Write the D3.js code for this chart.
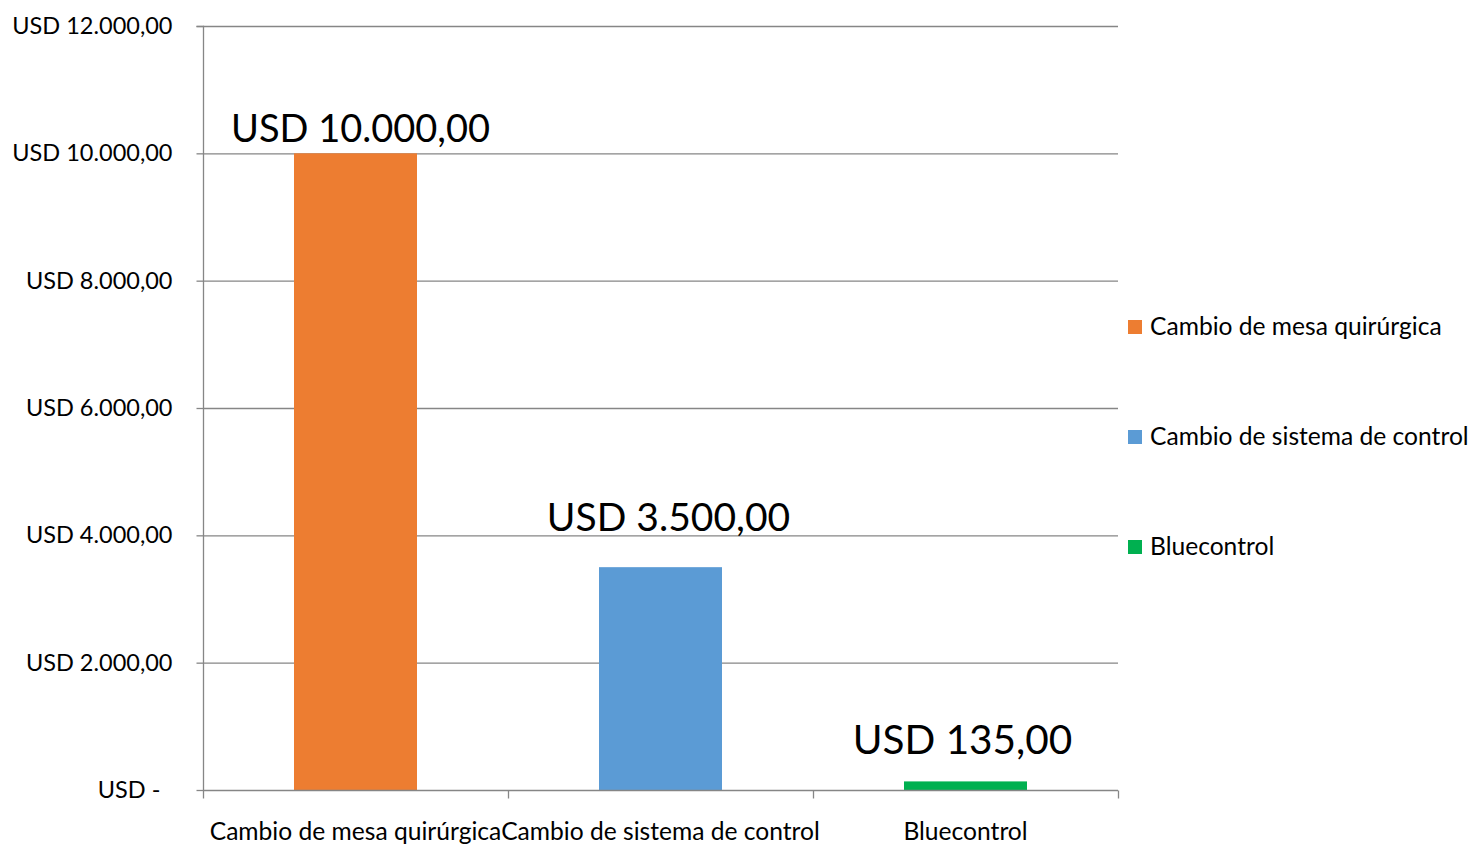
<!DOCTYPE html>
<html><head><meta charset="utf-8">
<script src="https://cdn.jsdelivr.net/npm/d3@7"></script>
<style>
html,body{margin:0;padding:0;background:#fff;}
svg{display:block;font-family:Lato,"Open Sans",sans-serif;}
text{white-space:pre;}
</style></head>
<body><svg id="c" width="1476" height="844"></svg>
<script>
const categories = ["Cambio de mesa quirúrgica","Cambio de sistema de control","Bluecontrol"];
const values = [10000, 3500, 135];
const valueLabels = ["USD 10.000,00","USD 3.500,00","USD 135,00"];
const yTicks = [0,2000,4000,6000,8000,10000,12000];
const yTickLabels = ["USD -  ","USD 2.000,00","USD 4.000,00","USD 6.000,00","USD 8.000,00","USD 10.000,00","USD 12.000,00"];
const colors = ["#ED7D31","#5B9BD5","#00B050"];

// layout (not data)
const labelShift = [{dx:5,dy:-11},{dx:8,dy:-36},{dx:-3,dy:-27}];
const labelSize = [38, 39, 40.5];

const svg = d3.select("#c");
const L=203, R=1118, T=26, B=790;
const x = d3.scaleBand().domain(categories).range([L,R]).paddingInner(0).paddingOuter(0);
const y = d3.scaleLinear().domain([0,12000]).range([B,T]);
const barW = 123;
const grid="#868686";

// gridlines
svg.append("g").selectAll("line").data(yTicks.filter(d=>d>0)).join("line")
  .attr("x1",L).attr("x2",R).attr("y1",d=>y(d)+0.5).attr("y2",d=>y(d)+0.5)
  .attr("stroke",grid).attr("stroke-width",1.3);

// y axis
const yAxis = d3.axisLeft(y).tickValues(yTicks).tickSize(7).tickPadding(24)
  .tickFormat((d,i)=>yTickLabels[i]);
const gy = svg.append("g").attr("transform",`translate(${L+0.5},0)`).call(yAxis);
gy.select(".domain").attr("stroke",grid).attr("stroke-width",1.3).attr("d",`M-7,${T+0.5}H0V${B+0.5}`);
gy.selectAll(".tick line").attr("stroke",grid).attr("stroke-width",1.3);
gy.selectAll(".tick text").attr("font-size",23.5).attr("fill","#000").attr("font-family","Lato,'Open Sans',sans-serif");

// bars
svg.append("g").selectAll("rect").data(values).join("rect")
  .attr("x",(d,i)=>x(categories[i])+x.bandwidth()/2-barW/2)
  .attr("width",barW)
  .attr("y",d=>y(d)).attr("height",d=>B-y(d))
  .attr("fill",(d,i)=>colors[i]);

// x axis
const xAxis = d3.axisBottom(x).tickSize(0).tickPadding(0);
const gx = svg.append("g").attr("transform",`translate(0,${B+0.5})`).call(xAxis);
gx.select(".domain").attr("stroke",grid).attr("stroke-width",1.5).attr("d",`M${L},0H${R}`);
gx.selectAll(".tick text").attr("font-size",24.6).attr("fill","#000").attr("dy",0).attr("y",49)
  .attr("font-family","Lato,'Open Sans',sans-serif");
// category boundary ticks
const bounds = categories.map(c=>x(c)).concat([R]);
gx.append("g").selectAll("line").data(bounds).join("line")
  .attr("x1",d=>d+0.5).attr("x2",d=>d+0.5).attr("y1",0).attr("y2",8)
  .attr("stroke",grid).attr("stroke-width",1.3);

// value labels
svg.append("g").selectAll("text").data(values).join("text")
  .attr("x",(d,i)=>x(categories[i])+x.bandwidth()/2+labelShift[i].dx)
  .attr("y",(d,i)=>y(d)+labelShift[i].dy)
  .attr("text-anchor","middle").attr("font-size",(d,i)=>labelSize[i]).attr("fill","#000")
  .text((d,i)=>valueLabels[i]);

// legend
const lg = svg.append("g").attr("transform","translate(1128,327)");
const items = lg.selectAll("g").data(categories).join("g").attr("transform",(d,i)=>`translate(0,${i*110})`);
items.append("rect").attr("x",0).attr("y",-7).attr("width",14).attr("height",14).attr("fill",(d,i)=>colors[i]);
items.append("text").attr("x",22).attr("y",8).attr("font-size",24.6).attr("fill","#000").text(d=>d);
</script></body></html>
